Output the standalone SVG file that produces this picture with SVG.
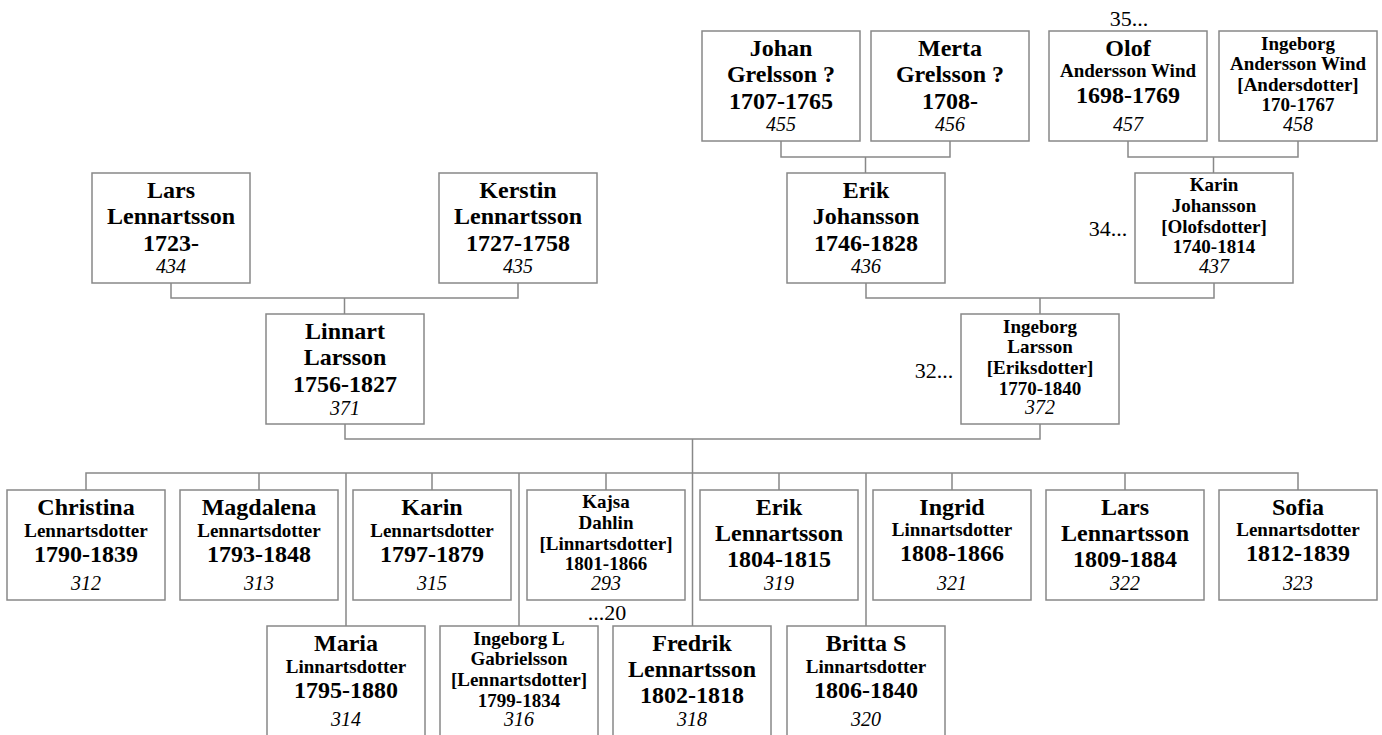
<svg xmlns="http://www.w3.org/2000/svg" width="1382" height="735" viewBox="0 0 1382 735">
<style>
rect.box{fill:#fff;stroke:#888;stroke-width:1.5}
.c{fill:none;stroke:#888;stroke-width:1.5}
text{font-family:"Liberation Serif","Times New Roman",serif;fill:#000;text-anchor:middle}
.b{font-weight:bold;font-size:24px}
.s{font-weight:bold;font-size:19px}
.n{font-style:italic;font-size:20px}
.r{font-size:22px}
</style>
<rect width="1382" height="735" fill="#fff"/>
<g id="connectors" class="c">
<path d="M781,141V157H950V141M865.5,157V173"/>
<path d="M1128,141V157H1298V141M1213.5,157V173"/>
<path d="M171,283V298H518V283M344.5,298V314"/>
<path d="M866,283V298H1214V283M1040,298V314"/>
<path d="M345,424V439H1040V424M692.5,439V626"/>
<path d="M86,490V473H1298V490M259,473V490M432,473V490M606,473V490M779,473V490M952,473V490M1125,473V490"/>
<path d="M346,473V626M519,473V626M866,473V626"/>
</g>
<g id="n455" transform="translate(702,31)"><rect class="box" width="158" height="110"/><text x="79" y="24.5" class="b">Johan</text><text x="79" y="50.5" class="b">Grelsson ?</text><text x="79" y="77.5" class="b">1707-1765</text><text x="79" y="100" class="n">455</text></g>
<g id="n456" transform="translate(871,31)"><rect class="box" width="158" height="110"/><text x="79" y="24.5" class="b">Merta</text><text x="79" y="50.5" class="b">Grelsson ?</text><text x="79" y="77.5" class="b">1708-</text><text x="79" y="100" class="n">456</text></g>
<g id="n457" transform="translate(1049,31)"><rect class="box" width="158" height="110"/><text x="79" y="25" class="b">Olof</text><text x="79" y="46" class="s">Andersson Wind</text><text x="79" y="72" class="b">1698-1769</text><text x="79" y="100" class="n">457</text></g>
<g id="n458" transform="translate(1219,31)"><rect class="box" width="158" height="110"/><text x="79" y="19" class="s">Ingeborg</text><text x="79" y="38.5" class="s">Andersson Wind</text><text x="79" y="59.5" class="s">[Andersdotter]</text><text x="79" y="80" class="s">170-1767</text><text x="79" y="99.5" class="n">458</text></g>
<text class="r" x="1129" y="26">35...</text>

<g id="n434" transform="translate(92,173)"><rect class="box" width="158" height="110"/><text x="79" y="24.5" class="b">Lars</text><text x="79" y="51" class="b">Lennartsson</text><text x="79" y="77.5" class="b">1723-</text><text x="79" y="100" class="n">434</text></g>
<g id="n435" transform="translate(439,173)"><rect class="box" width="158" height="110"/><text x="79" y="24.5" class="b">Kerstin</text><text x="79" y="51" class="b">Lennartsson</text><text x="79" y="77.5" class="b">1727-1758</text><text x="79" y="100" class="n">435</text></g>
<g id="n436" transform="translate(787,173)"><rect class="box" width="158" height="110"/><text x="79" y="24.5" class="b">Erik</text><text x="79" y="51" class="b">Johansson</text><text x="79" y="77.5" class="b">1746-1828</text><text x="79" y="100" class="n">436</text></g>
<g id="n437" transform="translate(1135,173)"><rect class="box" width="158" height="110"/><text x="79" y="17.5" class="s">Karin</text><text x="79" y="38.5" class="s">Johansson</text><text x="79" y="60" class="s">[Olofsdotter]</text><text x="79" y="80" class="s">1740-1814</text><text x="79" y="99.5" class="n">437</text></g>
<text class="r" x="1108" y="236">34...</text>

<g id="n371" transform="translate(266,314)"><rect class="box" width="158" height="110"/><text x="79" y="24.5" class="b">Linnart</text><text x="79" y="50.5" class="b">Larsson</text><text x="79" y="77.5" class="b">1756-1827</text><text x="79" y="100.5" class="n">371</text></g>
<g id="n372" transform="translate(961,314)"><rect class="box" width="158" height="110"/><text x="79" y="18.5" class="s">Ingeborg</text><text x="79" y="38.5" class="s">Larsson</text><text x="79" y="60" class="s">[Eriksdotter]</text><text x="79" y="80.5" class="s">1770-1840</text><text x="79" y="100" class="n">372</text></g>
<text class="r" x="934" y="378">32...</text>

<g id="n312" transform="translate(7,490)"><rect class="box" width="158" height="110"/><text x="79" y="24.5" class="b">Christina</text><text x="79" y="46.5" class="s">Lennartsdotter</text><text x="79" y="72" class="b">1790-1839</text><text x="79" y="99.5" class="n">312</text></g>
<g id="n313" transform="translate(180,490)"><rect class="box" width="158" height="110"/><text x="79" y="24.5" class="b">Magdalena</text><text x="79" y="46.5" class="s">Lennartsdotter</text><text x="79" y="72" class="b">1793-1848</text><text x="79" y="99.5" class="n">313</text></g>
<g id="n315" transform="translate(353,490)"><rect class="box" width="158" height="110"/><text x="79" y="24.5" class="b">Karin</text><text x="79" y="46.5" class="s">Lennartsdotter</text><text x="79" y="72" class="b">1797-1879</text><text x="79" y="99.5" class="n">315</text></g>
<g id="n293" transform="translate(527,490)"><rect class="box" width="158" height="110"/><text x="79" y="18" class="s">Kajsa</text><text x="79" y="38.5" class="s">Dahlin</text><text x="79" y="60" class="s">[Linnartsdotter]</text><text x="79" y="80" class="s">1801-1866</text><text x="79" y="99.5" class="n">293</text></g>
<g id="n319" transform="translate(700,490)"><rect class="box" width="158" height="110"/><text x="79" y="24.5" class="b">Erik</text><text x="79" y="50.5" class="b">Lennartsson</text><text x="79" y="77" class="b">1804-1815</text><text x="79" y="99.5" class="n">319</text></g>
<g id="n321" transform="translate(873,490)"><rect class="box" width="158" height="110"/><text x="79" y="24.5" class="b">Ingrid</text><text x="79" y="46" class="s">Linnartsdotter</text><text x="79" y="71" class="b">1808-1866</text><text x="79" y="99.5" class="n">321</text></g>
<g id="n322" transform="translate(1046,490)"><rect class="box" width="158" height="110"/><text x="79" y="24.5" class="b">Lars</text><text x="79" y="50.5" class="b">Lennartsson</text><text x="79" y="77" class="b">1809-1884</text><text x="79" y="99.5" class="n">322</text></g>
<g id="n323" transform="translate(1219,490)"><rect class="box" width="158" height="110"/><text x="79" y="24.5" class="b">Sofia</text><text x="79" y="46" class="s">Lennartsdotter</text><text x="79" y="71" class="b">1812-1839</text><text x="79" y="99.5" class="n">323</text></g>

<text class="r" x="607" y="620">...20</text>
<g id="n314" transform="translate(267,626)"><rect class="box" width="158" height="112"/><text x="79" y="25" class="b">Maria</text><text x="79" y="47" class="s">Linnartsdotter</text><text x="79" y="72" class="b">1795-1880</text><text x="79" y="99.5" class="n">314</text></g>
<g id="n316" transform="translate(440,626)"><rect class="box" width="158" height="112"/><text x="79" y="18.5" class="s">Ingeborg L</text><text x="79" y="38.5" class="s">Gabrielsson</text><text x="79" y="60" class="s">[Lennartsdotter]</text><text x="79" y="80.5" class="s">1799-1834</text><text x="79" y="100" class="n">316</text></g>
<g id="n318" transform="translate(613,626)"><rect class="box" width="158" height="112"/><text x="79" y="25" class="b">Fredrik</text><text x="79" y="51" class="b">Lennartsson</text><text x="79" y="77" class="b">1802-1818</text><text x="79" y="99.5" class="n">318</text></g>
<g id="n320" transform="translate(787,626)"><rect class="box" width="158" height="112"/><text x="79" y="25" class="b">Britta S</text><text x="79" y="47" class="s">Linnartsdotter</text><text x="79" y="72" class="b">1806-1840</text><text x="79" y="100" class="n">320</text></g>
</svg>
